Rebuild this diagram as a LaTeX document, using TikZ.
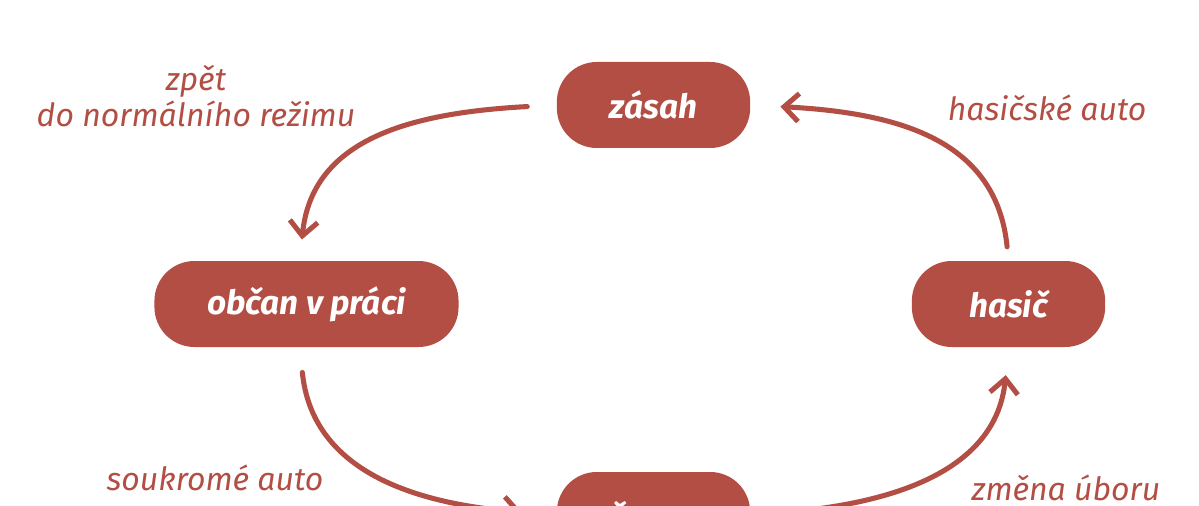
\documentclass[tikz,border=0pt]{standalone}
\usepackage{fontspec}
\setmainfont{Fira Sans}
\usetikzlibrary{arrows.meta}
\definecolor{cihla}{RGB}{179,78,69}

\begin{document}
\begin{tikzpicture}[x=0.75pt,y=0.75pt,yscale=-1,xscale=1,
  stav/.style={fill=cihla, text=white, rounded corners=30pt, minimum width=145pt, minimum height=64.5pt, inner xsep=39.5pt, font=\fontsize{25}{29}\selectfont\bfseries\itshape},
  popis/.style={text=cihla, align=center, font=\fontsize{24}{27}\selectfont\itshape},
  sipka/.style={draw=cihla, line width=3.8pt, line cap=round, -{Straight Barb[length=11pt,width=21pt]}}]
\useasboundingbox (0,0) rectangle (1199,506);

%Shape: Rounded Rect
\node (zasah) [stav] at (653.5,105) {zásah};
%Shape: Rounded Rect
\node (obcan) [stav] at (306.5,304) {občan v práci};
%Shape: Rounded Rect
\node (hasic) [stav] at (1008.5,304) {hasič};
%Shape: Rounded Rect
\node (satna) [stav] at (653.5,515) {šatna};

%Curve Lines
\draw [sipka, shorten <=22pt, shorten >=16pt] (zasah.west) .. controls +(-150,8) and +(12,-120) .. ([xshift=-5pt]obcan.north);
%Curve Lines
\draw [sipka, shorten <=10.5pt, shorten >=22.5pt] (hasic.north) .. controls +(-12,-120) and +(150,8) .. (zasah.east);
%Curve Lines
\draw [sipka, shorten <=19pt, shorten >=26pt] ([xshift=-5pt]obcan.south) .. controls +(12,120) and +(-150,-12) .. (satna.west);
%Curve Lines
\draw [sipka, shorten <=26pt, shorten >=21pt] (satna.east) .. controls +(150,-12) and +(-12,120) .. (hasic.south);

% Text Node
\node (zpet) [popis] at (196,96) {zpět\\do normálního režimu};
% Text Node
\node (hauto) [popis] at (1047,108) {hasičské auto};
% Text Node
\node (sauto) [popis] at (215,478) {soukromé auto};
% Text Node
\node (zmena) [popis] at (1066,488) {změna úboru};

\end{tikzpicture}
\end{document}
